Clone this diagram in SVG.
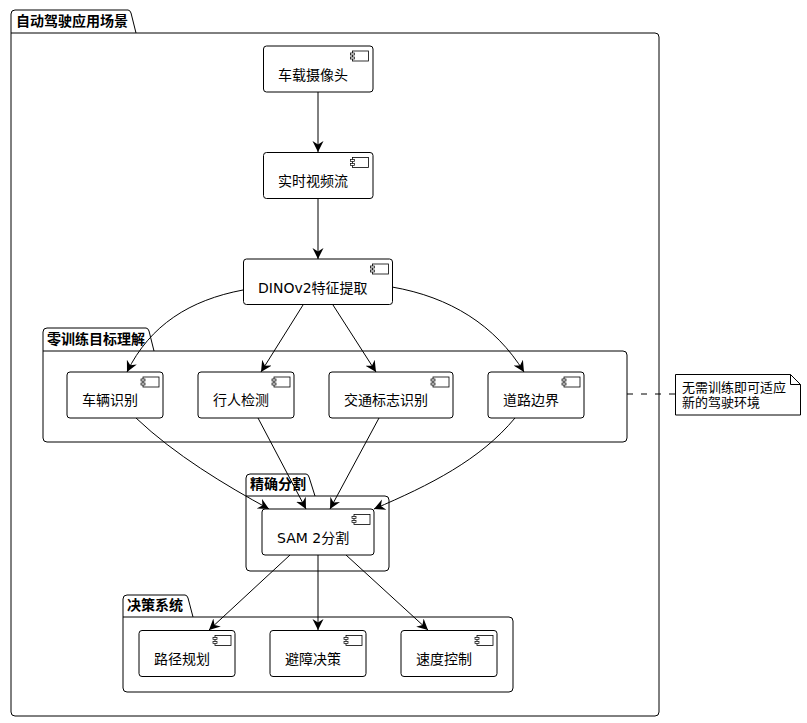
<svg xmlns="http://www.w3.org/2000/svg" width="807" height="723" viewBox="0 0 807 723">
<style>
text{font-family:"DejaVu Sans","Noto Sans CJK SC",sans-serif;fill:#000}
.t{font-size:14px}
.b{font-size:14px;font-weight:bold}
.n{font-size:13px}
.s{fill:#fff;stroke:#000;stroke-width:1}
.c{fill:none;stroke:#000;stroke-width:1}
.d{fill:none;stroke:#000;stroke-width:1;stroke-dasharray:6 8}
</style>
<defs>
<marker id="a" markerUnits="userSpaceOnUse" markerWidth="13" markerHeight="13" refX="11" refY="5.500" orient="auto"><path d="M0 0L11 5.500L0 11L3.500 5.500Z" fill="#000"/></marker>
<g id="ic"><rect x="2" y="0" width="16" height="10" fill="#fff" stroke="#000" stroke-width=".8"/><rect x="0" y="2" width="4" height="2" fill="#fff" stroke="#000" stroke-width=".7"/><rect x="0" y="6" width="4" height="2" fill="#fff" stroke="#000" stroke-width=".7"/></g>
</defs>
<rect width="807" height="723" fill="#fff"/>
<g id="pkg-main"><path class="s" d="M11 33V14Q11 10 15 10H128Q130 10 131 13L136 33H655Q659 33 659 37V712Q659 716 655 716H15Q11 716 11 712Z"/><path class="c" d="M11 33H136"/><text class="b" x="16" y="26">自动驾驶应用场景</text></g>
<g id="pkg-zero"><path class="s" d="M43 351V332Q43 328 47 328H146Q148 328 149 331L154 351H623Q627 351 627 355V438Q627 442 623 442H47Q43 442 43 438Z"/><path class="c" d="M43 351H154"/><text class="b" x="47" y="344">零训练目标理解</text></g>
<g id="pkg-seg"><path class="s" d="M246 496V478Q246 474 250 474H306Q308 474 309 477L315 496H385Q389 496 389 500V567Q389 571 385 571H250Q246 571 246 567Z"/><path class="c" d="M246 496H315"/><text class="b" x="250" y="489">精确分割</text></g>
<g id="pkg-dec"><path class="s" d="M123 617V599Q123 595 127 595H185Q187 595 188 598L193 617H509Q513 617 513 621V688Q513 692 509 692H127Q123 692 123 688Z"/><path class="c" d="M123 617H193"/><text class="b" x="127" y="610">决策系统</text></g>
<g id="connectors">
<path class="c" marker-end="url(#a)" d="M318 92V152"/>
<path class="c" marker-end="url(#a)" d="M318 198V259"/>
<path class="c" marker-end="url(#a)" d="M243 290C190 300 150 325 127 372"/>
<path class="c" marker-end="url(#a)" d="M303 305L261 372"/>
<path class="c" marker-end="url(#a)" d="M333 305L376 372"/>
<path class="c" marker-end="url(#a)" d="M392 287C450 297 495 325 524 372"/>
<path class="c" marker-end="url(#a)" d="M136 418C175 455 225 485 269 509"/>
<path class="c" marker-end="url(#a)" d="M258 418L306 509"/>
<path class="c" marker-end="url(#a)" d="M379 418L330 509"/>
<path class="c" marker-end="url(#a)" d="M515 418C480 460 430 485 374 509"/>
<path class="c" marker-end="url(#a)" d="M290 555L209 630"/>
<path class="c" marker-end="url(#a)" d="M318 555V630"/>
<path class="c" marker-end="url(#a)" d="M346 555L428 630"/>
<path class="d" d="M627 394H675"/>
</g>
<g id="n1"><rect class="s" x="263.500" y="46" width="109.500" height="46" rx="3"/><use href="#ic" x="350.500" y="51"/><text class="t" x="278" y="80">车载摄像头</text></g>
<g id="n2"><rect class="s" x="263.500" y="152.500" width="109.500" height="46" rx="3"/><use href="#ic" x="350.500" y="157.500"/><text class="t" x="278" y="186">实时视频流</text></g>
<g id="n3"><rect class="s" x="243.500" y="259" width="149" height="45.500" rx="3"/><use href="#ic" x="370.500" y="264"/><text class="t" x="258" y="293">DINOv2特征提取</text></g>
<g id="n4"><rect class="s" x="67" y="372" width="96" height="46" rx="3"/><use href="#ic" x="141" y="377"/><text class="t" x="82" y="405">车辆识别</text></g>
<g id="n5"><rect class="s" x="198" y="372" width="96" height="46" rx="3"/><use href="#ic" x="272" y="377"/><text class="t" x="213" y="405">行人检测</text></g>
<g id="n6"><rect class="s" x="329" y="372" width="124" height="46" rx="3"/><use href="#ic" x="431" y="377"/><text class="t" x="344" y="405">交通标志识别</text></g>
<g id="n7"><rect class="s" x="488" y="372" width="96" height="46" rx="3"/><use href="#ic" x="562" y="377"/><text class="t" x="503" y="405">道路边界</text></g>
<g id="n8"><rect class="s" x="262" y="509" width="112" height="46" rx="3"/><use href="#ic" x="352" y="514.500"/><text class="t" x="277" y="543">SAM 2分割</text></g>
<g id="n9"><rect class="s" x="139" y="630.500" width="96" height="46" rx="3"/><use href="#ic" x="213" y="635.500"/><text class="t" x="154" y="664">路径规划</text></g>
<g id="n10"><rect class="s" x="270" y="630.500" width="96" height="46" rx="3"/><use href="#ic" x="344" y="635.500"/><text class="t" x="285" y="664">避障决策</text></g>
<g id="n11"><rect class="s" x="401" y="630.500" width="96" height="46" rx="3"/><use href="#ic" x="475" y="635.500"/><text class="t" x="416" y="664">速度控制</text></g>
<g id="note"><path class="s" d="M675.500 374.500H790.500L800.500 384.500V415H675.500Z"/><path class="c" d="M790.500 374.500V384.500H800.500"/><text class="n" x="682" y="392">无需训练即可适应</text><text class="n" x="682" y="407">新的驾驶环境</text></g>
</svg>
